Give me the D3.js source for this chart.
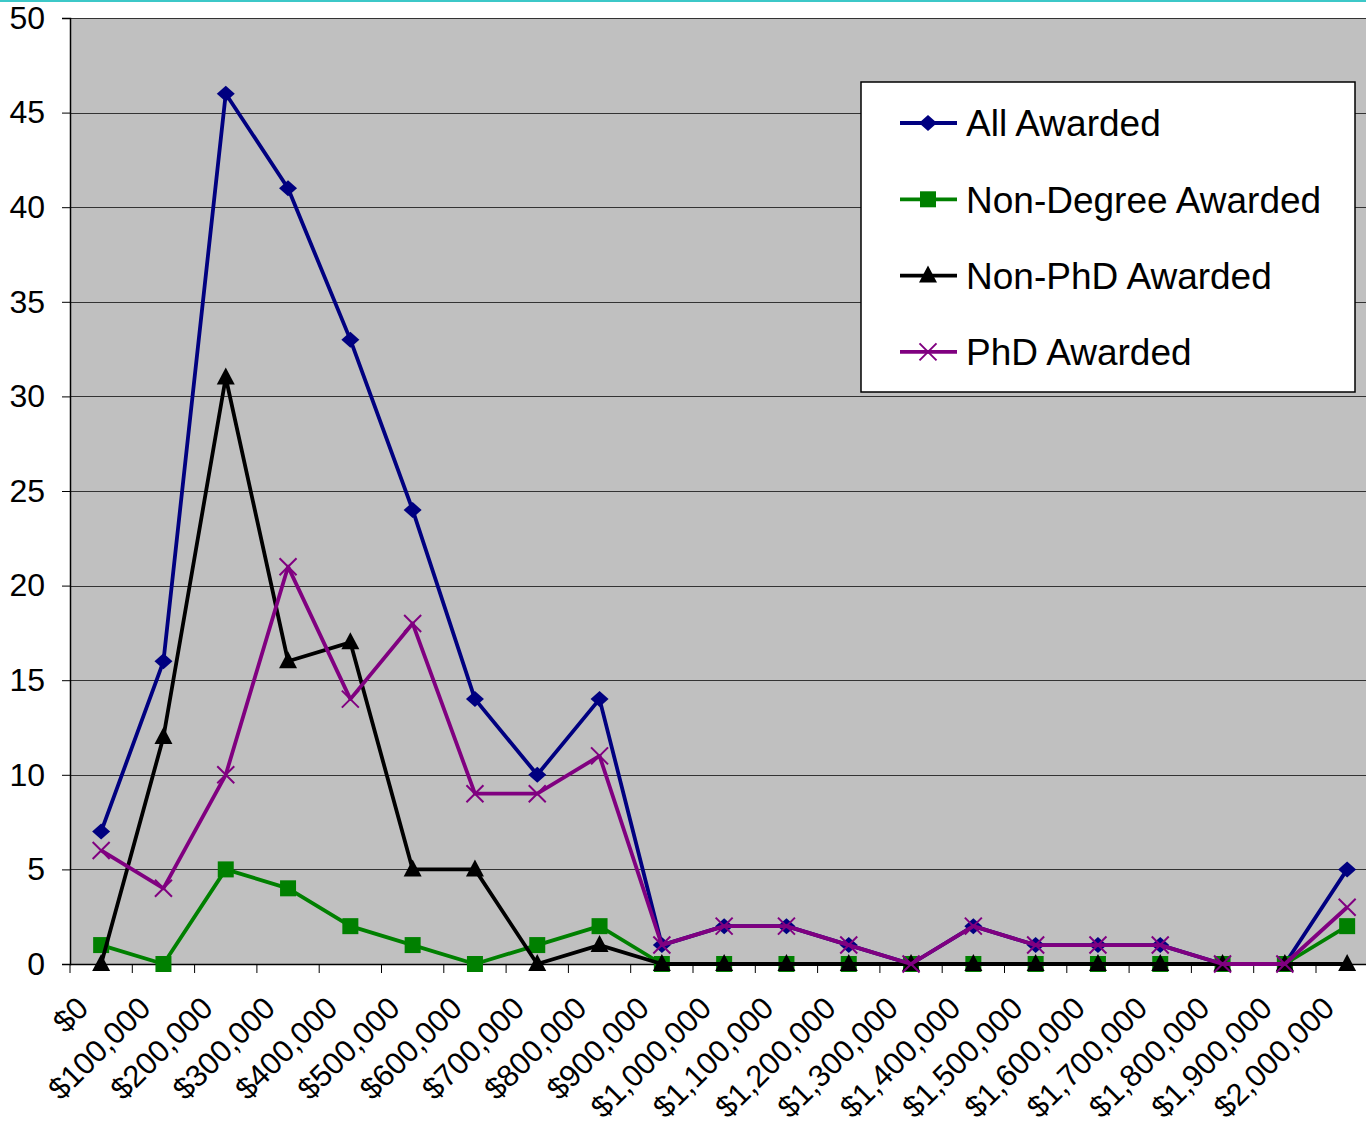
<!DOCTYPE html>
<html lang="en">
<head>
  <meta charset="UTF-8" />
  <title>Awards by amount</title>
  <script src="https://d3js.org/d3.v7.min.js"></script>
  <style>
    body { margin: 0; background: #fff; }
    svg { display: block; font-family: "Liberation Sans", Arial, sans-serif; }
  </style>
</head>
<body>
  <svg id="chart" width="1366" height="1125"></svg>
  <script>
    const categories = ["$0", "$100,000", "$200,000", "$300,000", "$400,000", "$500,000",
      "$600,000", "$700,000", "$800,000", "$900,000", "$1,000,000", "$1,100,000",
      "$1,200,000", "$1,300,000", "$1,400,000", "$1,500,000", "$1,600,000",
      "$1,700,000", "$1,800,000", "$1,900,000", "$2,000,000"];

    const allAwarded =       [7, 16, 46, 41, 33, 24, 14, 10, 14, 1, 2, 2, 1, 0, 2, 1, 1, 1, 0, 0, 5];
    const nonDegreeAwarded = [1, 0, 5, 4, 2, 1, 0, 1, 2, 0, 0, 0, 0, 0, 0, 0, 0, 0, 0, 0, 2];
    const nonPhdAwarded =    [0, 12, 31, 16, 17, 5, 5, 0, 1, 0, 0, 0, 0, 0, 0, 0, 0, 0, 0, 0, 0];
    const phdAwarded =       [6, 4, 10, 21, 14, 18, 9, 9, 11, 1, 2, 2, 1, 0, 2, 1, 1, 1, 0, 0, 3];

    const yTicks = [0, 5, 10, 15, 20, 25, 30, 35, 40, 45, 50];

    const series = [
      { name: "All Awarded", values: allAwarded, color: "#000080", marker: "diamond" },
      { name: "Non-Degree Awarded", values: nonDegreeAwarded, color: "#008000", marker: "square" },
      { name: "Non-PhD Awarded", values: nonPhdAwarded, color: "#000000", marker: "triangle" },
      { name: "PhD Awarded", values: phdAwarded, color: "#800080", marker: "cross" }
    ];

    const svg = d3.select("#chart");
    const plotLeft = 70, plotTop = 18, plotBottom = 964;

    const x = d3.scaleBand().domain(categories).range([plotLeft, plotLeft + 62.3 * categories.length]).padding(0);
    const y = d3.scaleLinear().domain([0, 50]).range([plotBottom, plotTop]);
    const cx = d => x(d) + x.bandwidth() / 2;

    // thin teal line at the very top
    svg.append("rect").attr("x", 0).attr("y", 0).attr("width", 1366).attr("height", 2).attr("fill", "#3cc8c8");

    // plot background
    svg.append("rect")
      .attr("x", plotLeft).attr("y", plotTop)
      .attr("width", x.range()[1] - plotLeft).attr("height", plotBottom - plotTop)
      .attr("fill", "#c0c0c0");

    // gridlines
    svg.append("g")
      .selectAll("line")
      .data(yTicks.filter(t => t > 0))
      .join("line")
      .attr("x1", plotLeft).attr("x2", x.range()[1])
      .attr("y1", d => Math.round(y(d)) + 0.5).attr("y2", d => Math.round(y(d)) + 0.5)
      .attr("stroke", "#333").attr("stroke-width", 1.2);

    // y axis
    const yAxis = svg.append("g")
      .attr("transform", `translate(${plotLeft},0)`)
      .call(d3.axisLeft(y).tickValues(yTicks).tickSize(8).tickPadding(17));
    yAxis.select(".domain").attr("stroke", "#000").attr("stroke-width", 1.5);
    yAxis.selectAll(".tick line").attr("stroke", "#000");
    yAxis.selectAll(".tick text").attr("font-size", 32).attr("fill", "#000").attr("font-family", "Liberation Sans, Arial, sans-serif");

    // x axis: ticks between categories
    const boundaries = categories.map(c => x(c)).concat([x.range()[1]]);
    svg.append("line")
      .attr("x1", plotLeft).attr("x2", x.range()[1])
      .attr("y1", plotBottom + 0.5).attr("y2", plotBottom + 0.5)
      .attr("stroke", "#000").attr("stroke-width", 1.5);
    svg.append("g")
      .selectAll("line")
      .data(boundaries)
      .join("line")
      .attr("x1", d => d).attr("x2", d => d)
      .attr("y1", plotBottom).attr("y2", plotBottom + 9)
      .attr("stroke", "#000");

    svg.append("g")
      .selectAll("text")
      .data(categories)
      .join("text")
      .attr("transform", d => `translate(${cx(d) - 11},${plotBottom + 46}) rotate(-45)`)
      .attr("text-anchor", "end")
      .attr("font-size", 31)
      .attr("fill", "#000")
      .text(d => d);

    function drawMarker(g, type, color) {
      if (type === "diamond") {
        g.append("path").attr("d", "M0,-8L9,0L0,8L-9,0Z").attr("fill", color);
      } else if (type === "square") {
        g.append("rect").attr("x", -8).attr("y", -8).attr("width", 16).attr("height", 16).attr("fill", color);
      } else if (type === "triangle") {
        g.append("path").attr("d", "M0,-10L9,7L-9,7Z").attr("fill", color);
      } else {
        g.append("path").attr("d", "M-8.5,-8.5L8.5,8.5M-8.5,8.5L8.5,-8.5").attr("stroke", color).attr("stroke-width", 2).attr("fill", "none");
      }
    }

    const line = d3.line().x((d, i) => cx(categories[i])).y(d => y(d));

    series.forEach(s => {
      const g = svg.append("g");
      g.append("path")
        .datum(s.values)
        .attr("d", line)
        .attr("fill", "none")
        .attr("stroke", s.color)
        .attr("stroke-width", 3.8)
        .attr("stroke-linejoin", "round");
      s.values.forEach((v, i) => {
        const m = g.append("g").attr("transform", `translate(${cx(categories[i])},${y(v)})`);
        drawMarker(m, s.marker, s.color);
      });
    });

    // legend
    const legend = svg.append("g");
    legend.append("rect")
      .attr("x", 861).attr("y", 82).attr("width", 494).attr("height", 310)
      .attr("fill", "#fff").attr("stroke", "#000").attr("stroke-width", 1.5);
    series.forEach((s, i) => {
      const ly = 123 + i * 76.3;
      legend.append("line")
        .attr("x1", 900).attr("x2", 957).attr("y1", ly).attr("y2", ly)
        .attr("stroke", s.color).attr("stroke-width", 3.8);
      const m = legend.append("g").attr("transform", `translate(928,${ly})`);
      drawMarker(m, s.marker, s.color);
      legend.append("text")
        .attr("x", 966).attr("y", ly)
        .attr("dy", "0.36em")
        .attr("font-size", 37)
        .attr("fill", "#000")
        .text(s.name);
    });
  </script>
</body>
</html>
